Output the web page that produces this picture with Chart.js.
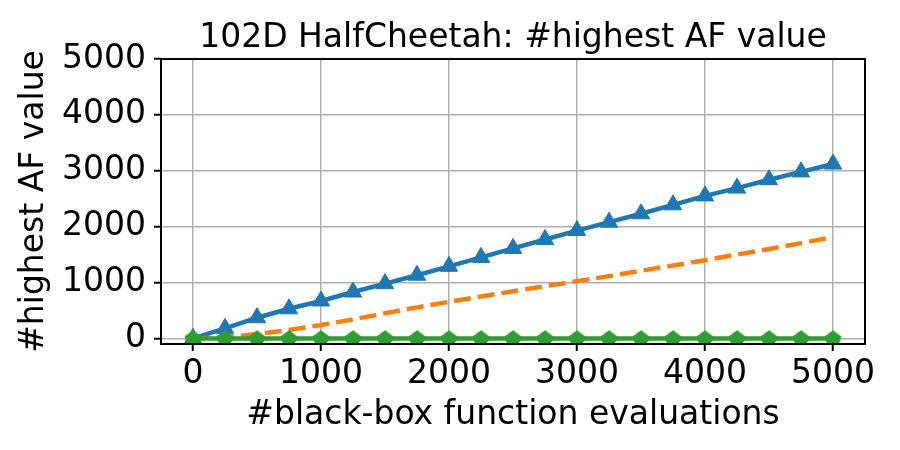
<!DOCTYPE html>
<html>
<head>
<meta charset="utf-8">
<script src="https://cdn.jsdelivr.net/npm/chart.js@4.4.0/dist/chart.umd.min.js"></script>
<style>
  html, body { margin: 0; padding: 0; background: #fff; }
</style>
</head>
<body>
<canvas id="chart" width="900" height="450"></canvas>
<script>
// evaluations at which the curves were sampled
var evals = [0, 250, 500, 750, 1000, 1250, 1500, 1750, 2000, 2250, 2500,
             2750, 3000, 3250, 3500, 3750, 4000, 4250, 4500, 4750, 5000];
var blueVals = [0, 180, 370, 530, 670, 830, 980, 1130, 1290, 1450, 1610,
                1770, 1930, 2080, 2230, 2390, 2550, 2690, 2840, 2980, 3120];
var orangeVals = [0, 20, 80, 150, 240, 340, 450, 555, 655, 750, 845,
                  935, 1025, 1115, 1210, 1305, 1400, 1500, 1600, 1705, 1810];
var greenVals = [0, 0, 0, 0, 0, 0, 0, 0, 0, 0, 0,
                 0, 0, 0, 0, 0, 0, 0, 0, 0, 0];
var xTicks = [0, 1000, 2000, 3000, 4000, 5000];
var yTicks = [0, 1000, 2000, 3000, 4000, 5000];

var FONT = 'DejaVu Sans';
var FS = 33;

function pts(ys) {
    return evals.map(function (x, i) { return { x: x, y: ys[i] }; });
}

// pentagon marker image for the green series
var pent = document.createElement('canvas');
pent.width = 18; pent.height = 18;
var pc = pent.getContext('2d');
pc.fillStyle = '#2ca02c';
pc.beginPath();
for (var k = 0; k < 5; k++) {
    var a = -Math.PI / 2 + k * 2 * Math.PI / 5;
    var px = 9 + 8.8 * Math.cos(a), py = 9.6 + 8.8 * Math.sin(a);
    if (k === 0) pc.moveTo(px, py); else pc.lineTo(px, py);
}
pc.closePath();
pc.fill();

var frameAndTitle = {
    id: 'frameAndTitle',
    afterDraw: function (chart) {
        var c = chart.ctx, a = chart.chartArea;
        c.save();
        c.strokeStyle = '#000';
        c.lineWidth = 2;
        c.strokeRect(a.left, a.top, a.right - a.left, a.bottom - a.top);
        c.fillStyle = '#000';
        c.font = FS + 'px "' + FONT + '"';
        c.textAlign = 'center';
        c.textBaseline = 'alphabetic';
        c.fillText('102D HalfCheetah: #highest AF value', (a.left + a.right) / 2, 46.5);
        c.restore();
    }
};

var tickFont = { family: FONT, size: FS };

new Chart(document.getElementById('chart').getContext('2d'), {
    type: 'line',
    data: {
        datasets: [{
            label: 'green',
            data: pts(greenVals),
            borderColor: '#2ca02c',
            backgroundColor: '#2ca02c',
            borderWidth: 4.5,
            pointStyle: pent,
            order: 0
        }, {
            label: 'orange',
            data: pts(orangeVals),
            borderColor: '#ff7f0e',
            backgroundColor: '#ff7f0e',
            borderWidth: 4.5,
            borderDash: [17, 7],
            pointRadius: 0,
            order: 1
        }, {
            label: 'blue',
            data: pts(blueVals),
            borderColor: '#1f77b4',
            backgroundColor: '#1f77b4',
            borderWidth: 4.5,
            pointStyle: 'triangle',
            pointRadius: 10,
            pointBorderWidth: 1,
            order: 2
        }]
    },
    options: {
        responsive: false,
        devicePixelRatio: 1,
        animation: false,
        events: [],
        layout: { padding: { left: 0, right: 35, top: 59, bottom: 0 } },
        plugins: { legend: { display: false }, tooltip: { enabled: false } },
        scales: {
            x: {
                type: 'linear',
                min: -250,
                max: 5250,
                afterBuildTicks: function (s) { s.ticks = xTicks.map(function (v) { return { value: v }; }); },
                afterFit: function (s) { s.height = 106; },
                ticks: { font: tickFont, color: '#000', padding: 4, maxRotation: 0,
                         callback: function (v) { return String(v); } },
                grid: { color: '#b0b0b0', lineWidth: 1.5, tickLength: 7, tickColor: '#000', tickWidth: 2 },
                border: { display: false },
                title: { display: true, text: '#black-box function evaluations', color: '#000',
                         font: tickFont, padding: { top: 0, bottom: 15 } }
            },
            y: {
                min: -100,
                max: 5000,
                afterBuildTicks: function (s) { s.ticks = yTicks.map(function (v) { return { value: v }; }); },
                afterFit: function (s) { s.width = 161; },
                ticks: { font: tickFont, color: '#000', padding: 8,
                         callback: function (v) { return String(v); } },
                grid: { color: '#b0b0b0', lineWidth: 1.5, tickLength: 7, tickColor: '#000', tickWidth: 2 },
                border: { display: false },
                title: { display: true, text: '#highest AF value', color: '#000',
                         font: tickFont, padding: { top: 15, bottom: 0 } }
            }
        }
    },
    plugins: [frameAndTitle]
});
</script>
</body>
</html>
